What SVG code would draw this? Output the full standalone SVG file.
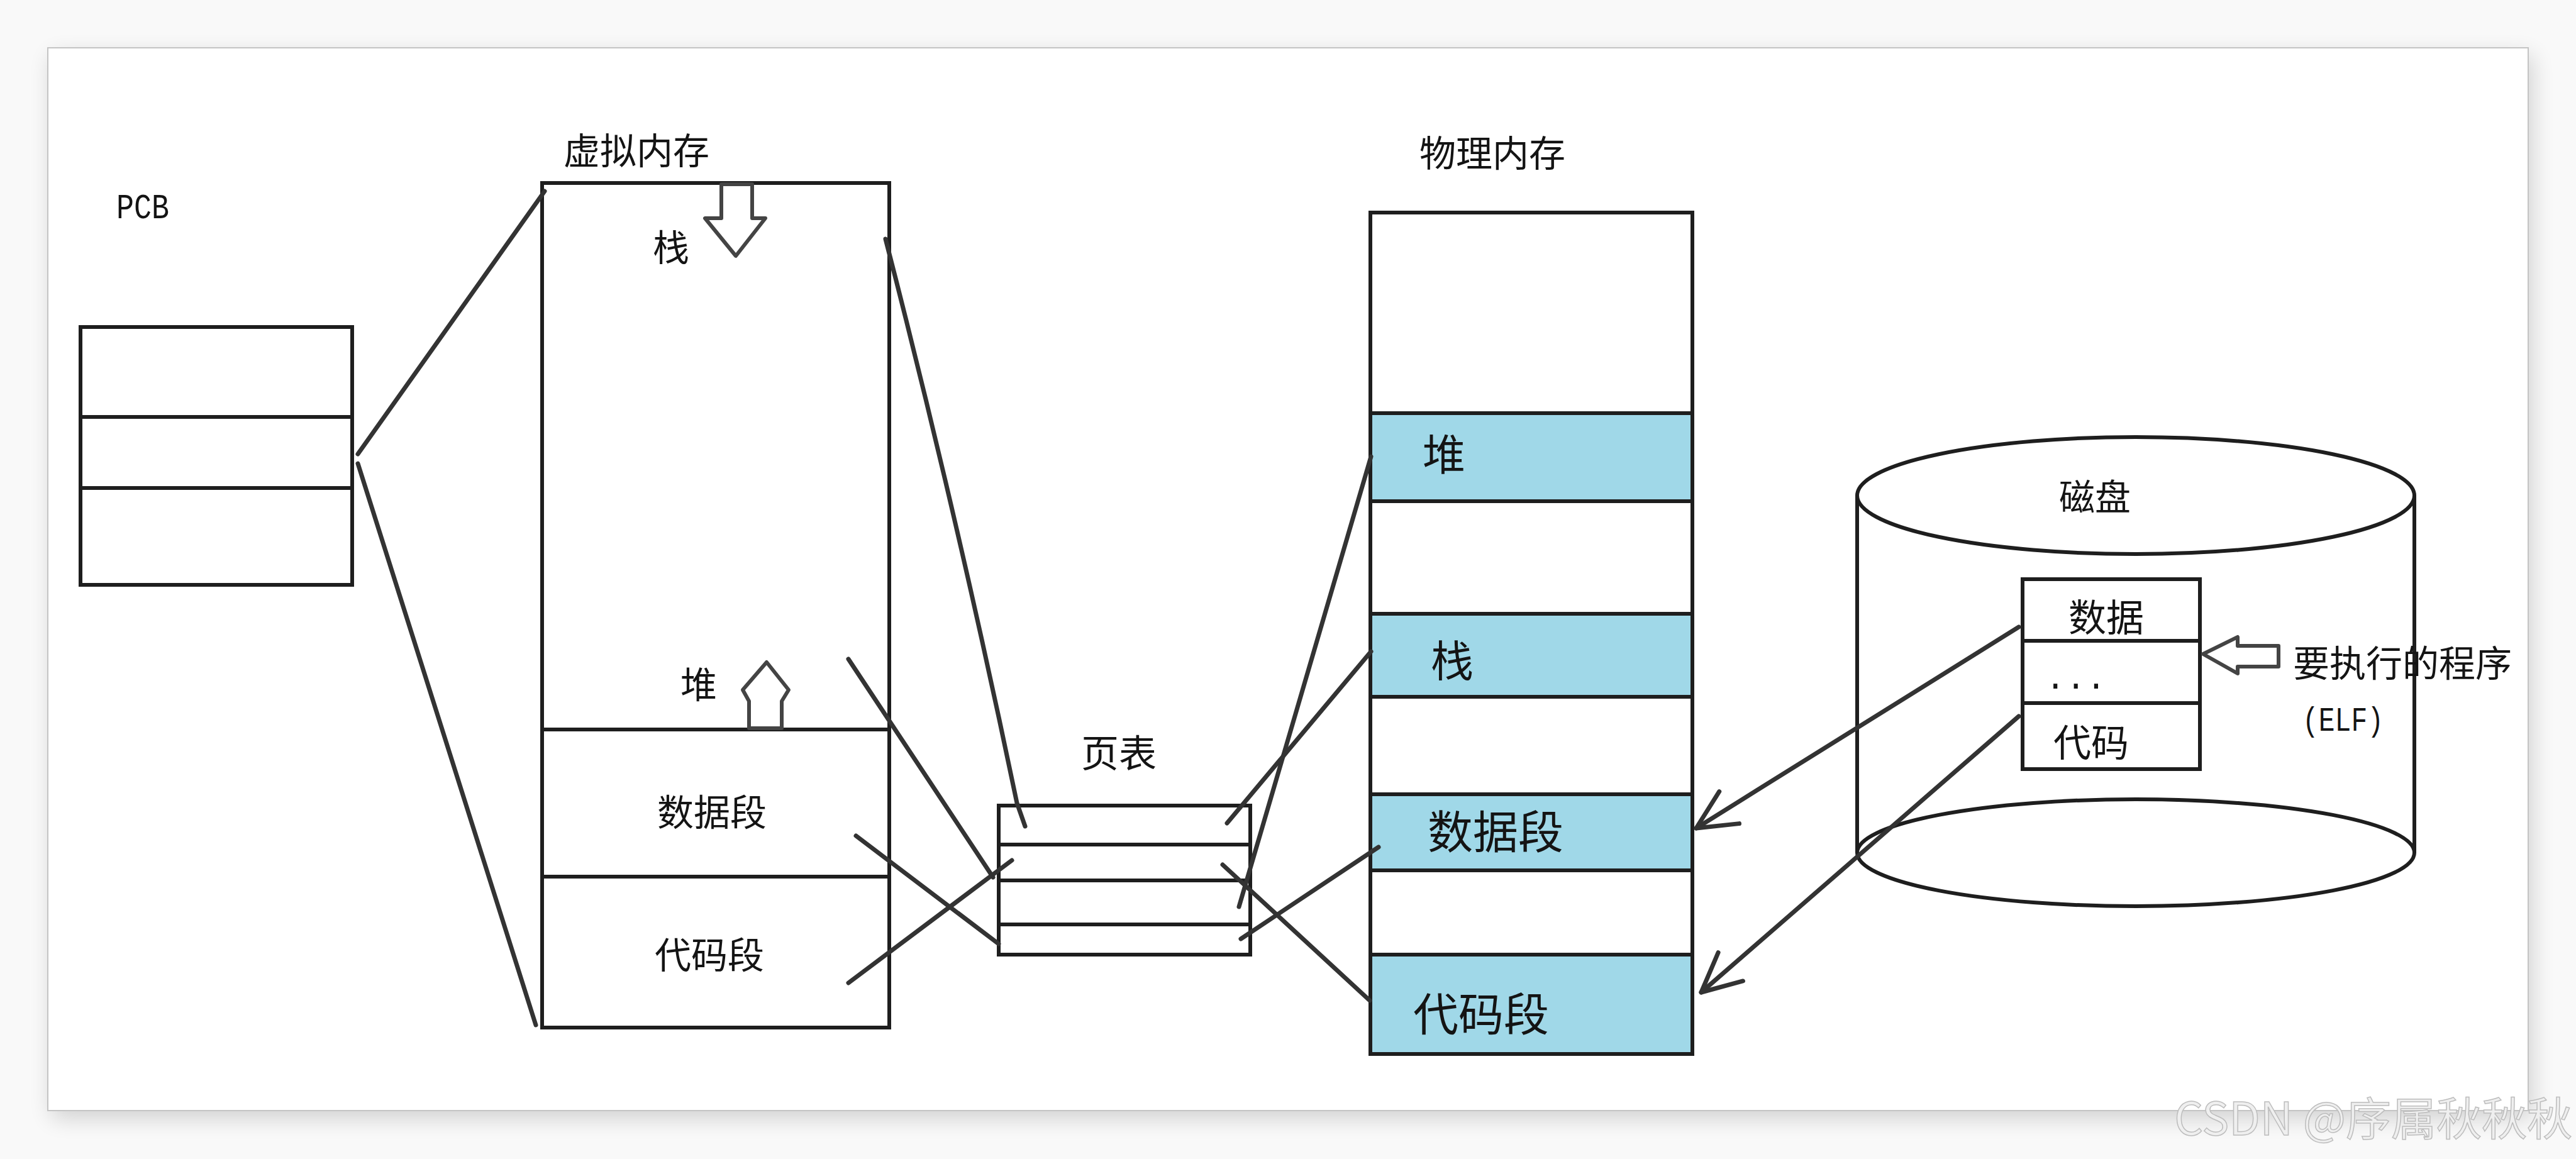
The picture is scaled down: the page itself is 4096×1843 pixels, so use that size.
<svg xmlns="http://www.w3.org/2000/svg" width="4096" height="1843" viewBox="0 0 4096 1843">
<defs>
<style>
.box{fill:#ffffff;stroke:#1e1e1e;stroke-width:6}
.ln{stroke:#1e1e1e;stroke-width:6;fill:none}
.band{fill:#a0d8e8;stroke:none}
.con{stroke:#333333;stroke-width:7;fill:none;stroke-linecap:round}
.harrow{fill:#ffffff;stroke:#444444;stroke-width:6;stroke-linejoin:round}
.cjk{font-family:"Noto Sans CJK SC","Noto Sans",sans-serif;fill:#141414;text-anchor:middle}
.lat{font-family:"Liberation Mono","DejaVu Sans Mono",monospace;fill:#141414}
</style>
<filter id="sh" x="-5%" y="-5%" width="110%" height="115%"><feGaussianBlur stdDeviation="18"/></filter>
<marker id="arr" markerUnits="userSpaceOnUse" viewBox="-70 -40 80 80" markerWidth="80" markerHeight="80" refX="0" refY="0" orient="auto" overflow="visible">
<path d="M-62,-30 L0,0 L-62,30" fill="none" stroke="#333333" stroke-width="7" stroke-linecap="round" stroke-linejoin="round"/>
</marker>
</defs>
<rect x="0" y="0" width="4096" height="1843" fill="#f9f9f9"/>
<rect x="82" y="88" width="3944" height="1690" fill="#000" opacity="0.16" filter="url(#sh)"/>
<rect x="76" y="76" width="3944" height="1690" fill="#ffffff" stroke="#c4c4c4" stroke-width="2"/>

<g id="pcb">
<text class="lat" x="185" y="347" font-size="56" textLength="84" lengthAdjust="spacingAndGlyphs">PCB</text>
<rect class="box" x="128" y="520" width="432" height="410"/>
<line class="ln" x1="128" y1="663" x2="560" y2="663"/>
<line class="ln" x1="128" y1="776" x2="560" y2="776"/>
</g>

<g id="virtual-memory">
<text class="cjk" x="1012" y="261" font-size="58">虚拟内存</text>
<rect class="box" x="862" y="291" width="552" height="1343"/>
<line class="ln" x1="862" y1="1160" x2="1414" y2="1160"/>
<line class="ln" x1="862" y1="1394" x2="1414" y2="1394"/>
<text class="cjk" x="1067" y="415" font-size="58">栈</text>
<polygon class="harrow" points="1147,293 1196,293 1196,347 1217,347 1170,407 1121,347 1147,347"/>
<text class="cjk" x="1111" y="1110" font-size="58">堆</text>
<polygon class="harrow" points="1219,1053 1254,1097 1243,1115 1243,1158 1191,1158 1191,1115 1181,1097"/>
<text class="cjk" x="1132" y="1313" font-size="58">数据段</text>
<text class="cjk" x="1128" y="1540" font-size="58">代码段</text>
</g>

<g id="page-table">
<text class="cjk" x="1779" y="1220" font-size="60">页表</text>
<rect class="box" x="1588" y="1281" width="400" height="237"/>
<line class="ln" x1="1588" y1="1343" x2="1988" y2="1343"/>
<line class="ln" x1="1588" y1="1400" x2="1988" y2="1400"/>
<line class="ln" x1="1588" y1="1470" x2="1988" y2="1470"/>
</g>

<g id="physical-memory">
<text class="cjk" x="2373" y="265" font-size="58">物理内存</text>
<rect class="box" x="2179" y="338" width="512" height="1338"/>
<rect class="band" x="2181" y="657" width="508" height="140"/>
<rect class="band" x="2181" y="976" width="508" height="132"/>
<rect class="band" x="2181" y="1263" width="508" height="121"/>
<rect class="band" x="2181" y="1518" width="508" height="156"/>
<rect x="2179" y="338" width="512" height="1338" fill="none" stroke="#1e1e1e" stroke-width="6"/>
<line class="ln" x1="2179" y1="657" x2="2691" y2="657"/>
<line class="ln" x1="2179" y1="797" x2="2691" y2="797"/>
<line class="ln" x1="2179" y1="976" x2="2691" y2="976"/>
<line class="ln" x1="2179" y1="1108" x2="2691" y2="1108"/>
<line class="ln" x1="2179" y1="1263" x2="2691" y2="1263"/>
<line class="ln" x1="2179" y1="1384" x2="2691" y2="1384"/>
<line class="ln" x1="2179" y1="1518" x2="2691" y2="1518"/>
<text class="cjk" x="2296" y="748" font-size="68">堆</text>
<text class="cjk" x="2309" y="1076" font-size="68">栈</text>
<text class="cjk" x="2378" y="1349" font-size="72">数据段</text>
<text class="cjk" x="2355" y="1639" font-size="72">代码段</text>
</g>

<g id="disk">
<line class="ln" x1="2953" y1="788" x2="2953" y2="1356"/>
<line class="ln" x1="3839" y1="788" x2="3839" y2="1356"/>
<ellipse class="box" cx="3396" cy="788" rx="443" ry="93"/>
<ellipse class="box" cx="3396" cy="1356" rx="443" ry="85"/>
<text class="cjk" x="3331" y="811" font-size="57">磁盘</text>
</g>

<g id="elf">
<rect class="box" x="3216" y="921" width="282" height="302"/>
<line class="ln" x1="3216" y1="1019" x2="3498" y2="1019"/>
<line class="ln" x1="3216" y1="1118" x2="3498" y2="1118"/>
<text class="cjk" x="3349" y="1004" font-size="60">数据</text>
<text class="lat" x="3252" y="1095" font-size="54">...</text>
<text class="cjk" x="3325" y="1203" font-size="60">代码</text>
<polygon class="harrow" points="3503,1040 3558,1013 3558,1027 3623,1027 3623,1060 3558,1060 3558,1071"/>
<text class="cjk" x="3820" y="1076" font-size="58">要执行的程序</text>
<text class="lat" x="3661" y="1162" font-size="53" textLength="129" lengthAdjust="spacingAndGlyphs">(ELF)</text>
</g>

<g id="connectors">
<line class="con" x1="569" y1="722" x2="866" y2="304"/>
<line class="con" x1="569" y1="737" x2="852" y2="1630"/>
<path class="con" d="M1408,380 Q1524,829 1617,1277 L1630,1314"/>
<line class="con" x1="1349" y1="1048" x2="1579" y2="1395"/>
<line class="con" x1="1361" y1="1329" x2="1588" y2="1501"/>
<line class="con" x1="1349" y1="1563" x2="1609" y2="1368"/>
<line class="con" x1="2180" y1="726" x2="1970" y2="1442"/>
<line class="con" x1="2180" y1="1036" x2="1951" y2="1309"/>
<line class="con" x1="2192" y1="1347" x2="1973" y2="1493"/>
<line class="con" x1="1944" y1="1375" x2="2178" y2="1591"/>
<line class="con" x1="3210" y1="997" x2="2697" y2="1317" marker-end="url(#arr)"/>
<line class="con" x1="3210" y1="1139" x2="2705" y2="1578" marker-end="url(#arr)"/>
</g>

<text x="4090" y="1805" font-family="Noto Sans CJK SC, Noto Sans, sans-serif" font-size="72" text-anchor="end" fill="#efefef" stroke="#bdbdbd" stroke-width="1.5">CSDN @序属秋秋秋</text>
</svg>
